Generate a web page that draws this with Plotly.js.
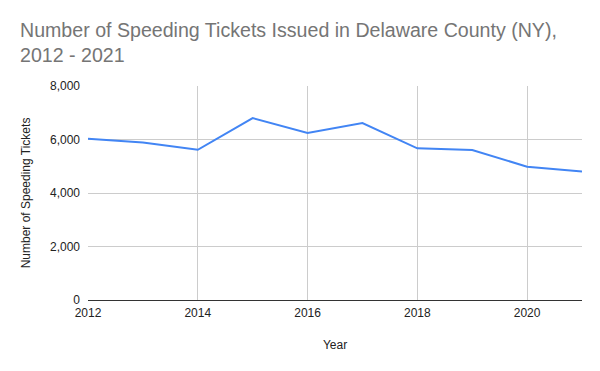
<!DOCTYPE html>
<html><head><meta charset="utf-8">
<script src="https://cdn.plot.ly/plotly-3.0.1.min.js"></script>
<style>html,body{margin:0;padding:0;background:#fff}#chart{width:600px;height:371px}</style>
</head><body><div id="chart"></div>
<script>
const years = [2012, 2013, 2014, 2015, 2016, 2017, 2018, 2019, 2020, 2021];
const tickets = [6030, 5890, 5615, 6800, 6240, 6615, 5670, 5605, 4985, 4800];
const xTicks = [2012, 2014, 2016, 2018, 2020];
const yTicks = [0, 2000, 4000, 6000, 8000];

const trace = {
  x: years, y: tickets, type: 'scatter', mode: 'lines',
  line: {color: '#4285F4', width: 2}, hoverinfo: 'x+y'
};
const layout = {
  width: 600, height: 371,
  margin: {l: 88, r: 18, t: 86, b: 71},
  paper_bgcolor: '#fff', plot_bgcolor: '#fff',
  font: {family: '"Liberation Sans", Arial, sans-serif', size: 12, color: '#222'},
  title: {text: 'Number of Speeding Tickets Issued in Delaware County (NY),<br>2012 - 2021',
    font: {size: 19.6, color: '#757575'}, x: 20/600, xanchor: 'left', xref: 'container',
    y: 1 - 37/371, yanchor: 'middle', yref: 'container'},
  showlegend: false,
  xaxis: {
    range: [2012, 2021], tickvals: xTicks, ticktext: xTicks.map(String),
    showgrid: true, gridcolor: '#cccccc', zeroline: false, showline: false, ticks: '',
    ticklabelstandoff: 4,
    tickfont: {size: 12, color: '#222'},
    title: {text: 'Year', font: {size: 12, color: '#222'}, standoff: 21}
  },
  yaxis: {
    range: [0, 8000], tickvals: yTicks, ticktext: yTicks.map(v => v.toLocaleString('en-US')),
    showgrid: true, gridcolor: '#cccccc', zeroline: true, zerolinecolor: '#333333', zerolinewidth: 1,
    showline: false, ticks: '', ticklabelstandoff: 7, tickfont: {size: 12, color: '#222'},
    title: {text: 'Number of Speeding Tickets', font: {size: 12, color: '#222'}, standoff: 16}
  }
};
Plotly.newPlot('chart', [trace], layout, {displayModeBar: false, staticPlot: true});
</script></body></html>
